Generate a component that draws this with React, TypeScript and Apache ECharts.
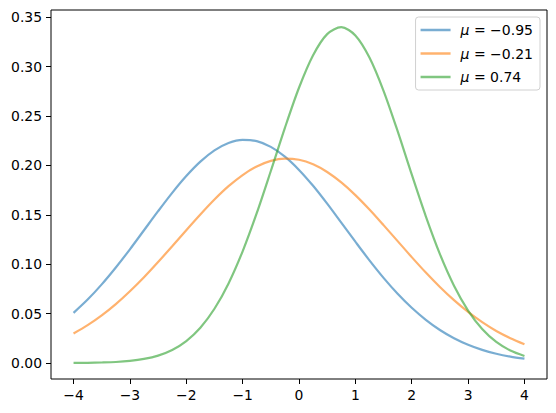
import React, { useEffect, useRef } from "react";
import * as echarts from "echarts";

const xValues = [
  -4, -3.75, -3.5, -3.25, -3, -2.75, -2.5, -2.25, -2, -1.75, -1.5, -1.25, -1, -0.75, -0.5, -0.25,
  0, 0.25, 0.5, 0.75, 1, 1.25, 1.5, 1.75, 2, 2.25, 2.5, 2.75, 3, 3.25, 3.5, 3.75, 4,
];

const seriesNames = ["mu1", "mu2", "mu3"];
const seriesLabels = ["−0.95", "−0.21", "0.74"];

const blueValues = [
  0.0508, 0.0642, 0.0796, 0.0967, 0.1151, 0.1344, 0.1537, 0.1723, 0.1893, 0.2039, 0.2153, 0.2228,
  0.2259, 0.2246, 0.2188, 0.2089, 0.1955, 0.1794, 0.1613, 0.1421, 0.1228, 0.1039, 0.0862, 0.0701,
  0.0559, 0.0437, 0.0334, 0.0251, 0.0185, 0.0133, 0.0094, 0.0065, 0.0044,
];

const orangeValues = [
  0.0299, 0.0383, 0.0482, 0.0596, 0.0726, 0.0868, 0.1022, 0.1182, 0.1345, 0.1504, 0.1655, 0.179,
  0.1903, 0.199, 0.2047, 0.207, 0.2058, 0.2012, 0.1934, 0.1828, 0.17, 0.1554, 0.1396, 0.1234,
  0.1072, 0.0916, 0.077, 0.0636, 0.0517, 0.0413, 0.0324, 0.0251, 0.019,
];

const greenValues = [
  0.0001, 0.0002, 0.0005, 0.001, 0.0021, 0.0041, 0.0075, 0.0132, 0.0222, 0.0357, 0.0549, 0.0806,
  0.1131, 0.1517, 0.1944, 0.2381, 0.2787, 0.3116, 0.333, 0.34, 0.3317, 0.3093, 0.2756, 0.2347,
  0.1909, 0.1485, 0.1103, 0.0783, 0.0531, 0.0344, 0.0213, 0.0126, 0.0071,
];

const xTicks = [-4, -3, -2, -1, 0, 1, 2, 3, 4];
const yTicks = [0, 0.05, 0.1, 0.15, 0.2, 0.25, 0.3, 0.35];

const colors = ["rgba(31,119,180,0.6)", "rgba(255,127,14,0.6)", "rgba(44,160,44,0.6)"];

export default function App() {
  const ref = useRef<HTMLDivElement>(null);
  useEffect(() => {
    if (!ref.current) return;
    const chart = echarts.init(ref.current, null, { renderer: "svg" });
    const all = [blueValues, orangeValues, greenValues];
    const font = "'DejaVu Sans', sans-serif";
    chart.setOption({
      animation: false,
      grid: {
        left: 51,
        right: 9,
        top: 10,
        bottom: 34,
        show: true,
        borderColor: "#000",
        borderWidth: 1,
        backgroundColor: "transparent",
      },
      legend: {
        orient: "vertical",
        right: 16,
        top: 17,
        data: seriesNames,
        icon: "rect",
        itemWidth: 30,
        itemHeight: 2.5,
        itemGap: 9.5,
        padding: [6, 7, 6, 5],
        backgroundColor: "#fff",
        borderColor: "#d0d0d0",
        borderWidth: 1,
        borderRadius: 3,
        formatter: (name: string) => {
          const i = seriesNames.indexOf(name);
          return "{i|μ}{n| = " + seriesLabels[i] + "}";
        },
        textStyle: {
          padding: [0, 0, 0, 5],
          rich: {
            i: { fontFamily: font, fontStyle: "italic", fontSize: 14, color: "#000", lineHeight: 16 },
            n: { fontFamily: font, fontSize: 14, color: "#000", lineHeight: 16 },
          },
        },
      },
      xAxis: {
        type: "value",
        min: -4.4,
        max: 4.4,
        splitLine: { show: false },
        axisLine: { show: false, onZero: false },
        axisTick: {
          show: true,
          customValues: xTicks,
          length: 5,
          lineStyle: { color: "#000", width: 1 },
        },
        axisLabel: {
          customValues: xTicks,
          margin: 9,
          fontFamily: font,
          fontSize: 13.9,
          color: "#000",
          formatter: (v: number) => (v < 0 ? "−" + Math.abs(v) : String(v)),
        },
      },
      yAxis: {
        type: "value",
        min: -0.0162,
        max: 0.3574,
        splitLine: { show: false },
        axisLine: { show: false, onZero: false },
        axisTick: {
          show: true,
          customValues: yTicks,
          length: 5,
          lineStyle: { color: "#000", width: 1 },
        },
        axisLabel: {
          customValues: yTicks,
          margin: 9,
          fontFamily: font,
          fontSize: 13.9,
          color: "#000",
          formatter: (v: number) => v.toFixed(2),
        },
      },
      series: seriesNames.map((name, k) => ({
        name,
        type: "line",
        data: xValues.map((x, j) => [x, all[k][j]]),
        smooth: 0.3,
        showSymbol: false,
        symbol: "none",
        color: colors[k],
        lineStyle: { width: 2.2, color: colors[k] },
        z: 2 + k,
      })),
    });
    return () => chart.dispose();
  }, []);
  return <div ref={ref} style={{ width: 556, height: 413, position: "absolute", left: 0, top: 0 }} />;
}
